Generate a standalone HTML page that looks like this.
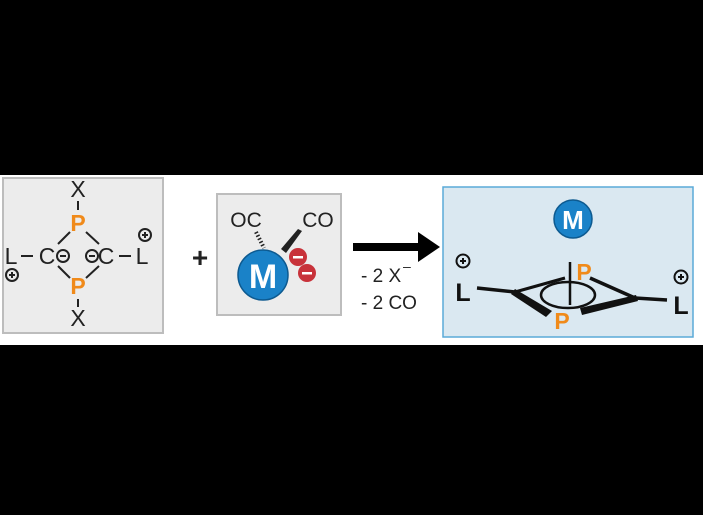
<!DOCTYPE html>
<html><head><style>body{margin:0;background:#000}svg{display:block}</style></head><body>
<svg width="703" height="515" viewBox="0 0 703 515" font-family="Liberation Sans, sans-serif">
<rect width="703" height="515" fill="#000"/>
<rect x="0" y="175" width="703" height="170" fill="#fff"/>
<!-- left box -->
<rect x="3" y="178" width="160" height="155" fill="#ececec" stroke="#bdbdbd" stroke-width="2"/>
<g font-size="23" fill="#222" text-anchor="middle">
<text x="78" y="197">X</text>
<text x="78" y="326">X</text>
<text x="11" y="264">L</text>
<text x="47" y="264">C</text>
<text x="106" y="264">C</text>
<text x="142" y="264">L</text>
</g>
<g font-size="23" fill="#f08a1a" font-weight="bold" text-anchor="middle">
<text x="78" y="231">P</text><text x="78" y="294">P</text>
</g>
<g stroke="#222" stroke-width="2" fill="none">
<line x1="78" y1="201" x2="78" y2="210"/><line x1="78" y1="299" x2="78" y2="307"/>
<line x1="21" y1="256" x2="33" y2="256"/><line x1="119" y1="256" x2="131" y2="256"/>
<line x1="70" y1="232" x2="58" y2="244"/><line x1="86" y1="232" x2="99" y2="244"/>
<line x1="58" y1="266" x2="70" y2="278"/><line x1="99" y1="266" x2="86" y2="278"/>
<circle cx="63" cy="256" r="6"/><line x1="60" y1="256" x2="66" y2="256"/>
<circle cx="92" cy="256" r="6"/><line x1="89" y1="256" x2="95" y2="256"/>
<circle cx="12" cy="275" r="6"/><line x1="9" y1="275" x2="15" y2="275"/><line x1="12" y1="272" x2="12" y2="278"/>
<circle cx="145" cy="235" r="6"/><line x1="142" y1="235" x2="148" y2="235"/><line x1="145" y1="232" x2="145" y2="238"/>
</g>
<text x="200" y="267" font-size="28" font-weight="bold" fill="#222" text-anchor="middle">+</text>
<!-- middle box -->
<rect x="217" y="194" width="124" height="121" fill="#ececec" stroke="#bdbdbd" stroke-width="2"/>
<g font-size="21" fill="#222" text-anchor="middle"><text x="246" y="227">OC</text><text x="318" y="227">CO</text></g>
<line x1="256" y1="232" x2="264" y2="248" stroke="#222" stroke-width="4" stroke-dasharray="1.5,2"/>
<polygon points="298,229 302,231 286,253 281,249" fill="#222"/>
<circle cx="263" cy="275" r="25" fill="#1a82c8" stroke="#0d5a90" stroke-width="1.5"/>
<text x="263" y="288" font-size="34" font-weight="bold" fill="#fff" text-anchor="middle">M</text>
<circle cx="298" cy="257" r="9" fill="#c8323a"/><rect x="293" y="256" width="10" height="2.5" fill="#fff"/>
<circle cx="307" cy="273" r="9" fill="#c8323a"/><rect x="302" y="272" width="10" height="2.5" fill="#fff"/>
<!-- arrow -->
<rect x="353" y="243" width="70" height="8" fill="#000"/>
<polygon points="418,232 440,247 418,262" fill="#000"/>
<g font-size="19" fill="#222"><text x="361" y="282">- 2 X</text><text x="403" y="271" font-size="14">–</text><text x="361" y="309">- 2 CO</text></g>
<!-- right box -->
<rect x="443" y="187" width="250" height="150" fill="#dae8f1" stroke="#5aaad8" stroke-width="1.5"/>
<circle cx="573" cy="219" r="19" fill="#1a82c8" stroke="#0d5a90" stroke-width="1.5"/>
<text x="573" y="229" font-size="26" font-weight="bold" fill="#fff" text-anchor="middle">M</text>
<g font-size="25" font-weight="bold" fill="#111" text-anchor="middle"><text x="463" y="301">L</text><text x="681" y="314">L</text></g>
<g stroke="#111" stroke-width="2" fill="none">
<circle cx="463" cy="261" r="6.5"/><line x1="460" y1="261" x2="466" y2="261"/><line x1="463" y1="258" x2="463" y2="264"/>
<circle cx="681" cy="277" r="6.5"/><line x1="678" y1="277" x2="684" y2="277"/><line x1="681" y1="274" x2="681" y2="280"/>
<line x1="477" y1="288" x2="515" y2="292" stroke-width="3.5"/>
<line x1="635" y1="298" x2="667" y2="300" stroke-width="3.5"/>
<line x1="515" y1="292" x2="565" y2="278" stroke-width="3"/>
<line x1="590" y1="278" x2="635" y2="298" stroke-width="3.5"/>
<ellipse cx="568" cy="295" rx="27" ry="13" stroke-width="2.5"/>
<line x1="570" y1="262" x2="570" y2="305" stroke-width="2.5"/>
</g>
<polygon points="515,289 552,311 546,317 511,294" fill="#111"/>
<polygon points="580,308 636,295 638,301 582,315" fill="#111"/>
<g font-size="23" font-weight="bold" fill="#f08a1a" text-anchor="middle"><text x="584" y="280">P</text><text x="562" y="329">P</text></g>
</svg>
</body></html>
